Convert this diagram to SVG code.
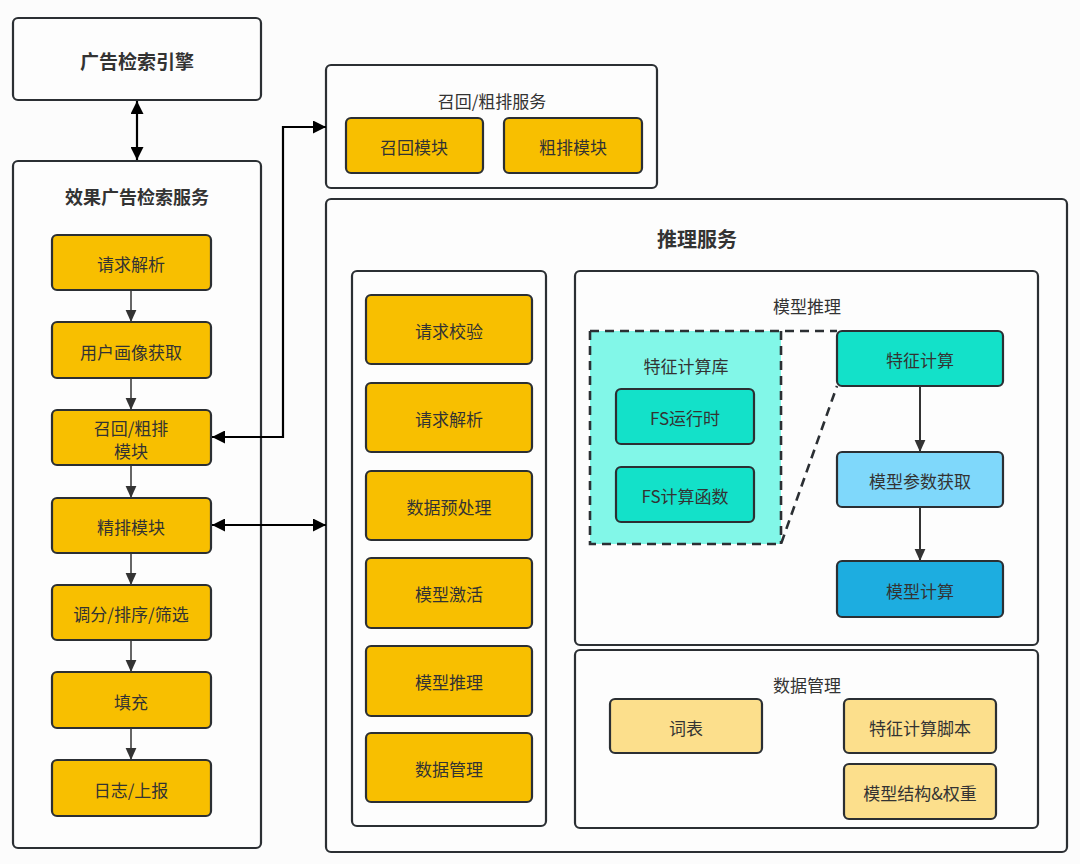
<svg xmlns="http://www.w3.org/2000/svg" width="1080" height="864" viewBox="0 0 1080 864">
<defs>
<style>
text{font-family:"Noto Sans CJK SC","Noto Sans",sans-serif;fill:#333;text-anchor:middle;dominant-baseline:central}
.t{font-size:17px}
.h{font-size:18px;font-weight:bold}
.c{fill:#FDFDFD;stroke:#2B2F33;stroke-width:2.2}
.o{fill:#F8BF00;stroke:#2B2F33;stroke-width:2.2}
.y{fill:#FCDF8C;stroke:#2B2F33;stroke-width:2.2}
.tq{fill:#13E1C9;stroke:#2B2F33;stroke-width:2.2}
.lb{fill:#7FD8FB;stroke:#2B2F33;stroke-width:2.2}
.db{fill:#1DADE0;stroke:#2B2F33;stroke-width:2.2}
.big{fill:none;stroke:#000;stroke-width:2.2}
.sm{fill:none;stroke:#333;stroke-width:1.5}
.dash{fill:none;stroke:#2B2F33;stroke-width:2.6;stroke-dasharray:9 6}
</style>
<marker id="ab" viewBox="0 0 10 10" refX="10" refY="5" markerWidth="15" markerHeight="13" markerUnits="userSpaceOnUse" orient="auto-start-reverse"><path d="M0,0L10,5L0,10Z" fill="#000"/></marker>
<marker id="as" viewBox="0 0 10 10" refX="10" refY="5" markerWidth="13" markerHeight="12" markerUnits="userSpaceOnUse" orient="auto"><path d="M0,0.5L10,5L0,9.5Z" fill="#333"/></marker>
</defs>
<rect width="1080" height="864" fill="#FCFCFC"/>

<g id="engine"><rect class="c" x="13" y="18" width="248" height="82" rx="5"/><text class="h" x="137" y="60" style="font-size:19px">广告检索引擎</text></g>

<g id="ad-service"><rect class="c" x="13" y="161" width="248" height="687" rx="5"/><text class="h" x="137" y="196" style="font-weight:600">效果广告检索服务</text></g>
<g id="n-req"><rect class="o" x="52" y="235" width="159" height="55" rx="5"/><text class="t" x="131" y="263">请求解析</text></g>
<g id="n-user"><rect class="o" x="52" y="322" width="159" height="56" rx="5"/><text class="t" x="131" y="351">用户画像获取</text></g>
<g id="n-recall"><rect class="o" x="52" y="410" width="159" height="55" rx="5"/><text class="t" x="131" y="427">召回/粗排</text><text class="t" x="131" y="450">模块</text></g>
<g id="n-rank"><rect class="o" x="52" y="498" width="159" height="55" rx="5"/><text class="t" x="131" y="526">精排模块</text></g>
<g id="n-adjust"><rect class="o" x="52" y="585" width="159" height="55" rx="5"/><text class="t" x="131" y="613">调分/排序/筛选</text></g>
<g id="n-fill"><rect class="o" x="52" y="672" width="159" height="56" rx="5"/><text class="t" x="131" y="701">填充</text></g>
<g id="n-log"><rect class="o" x="52" y="760" width="159" height="56" rx="5"/><text class="t" x="131" y="789">日志/上报</text></g>

<g id="recall-service"><rect class="c" x="326" y="65" width="331" height="123" rx="5"/><text class="t" x="492" y="100">召回/粗排服务</text></g>
<g id="n-recall-mod"><rect class="o" x="346" y="118" width="137" height="55" rx="5"/><text class="t" x="414" y="146">召回模块</text></g>
<g id="n-coarse-mod"><rect class="o" x="504" y="118" width="138" height="55" rx="5"/><text class="t" x="573" y="146">粗排模块</text></g>

<g id="infer-service"><rect class="c" x="326" y="199" width="741" height="653" rx="5"/><text class="h" x="697" y="238" style="font-size:20px">推理服务</text></g>
<g id="infer-steps"><rect class="c" x="352" y="271" width="194" height="555" rx="5"/></g>
<g id="s-check"><rect class="o" x="366" y="295" width="166" height="69" rx="5"/><text class="t" x="449" y="330">请求校验</text></g>
<g id="s-parse"><rect class="o" x="366" y="383" width="166" height="69" rx="5"/><text class="t" x="449" y="418">请求解析</text></g>
<g id="s-pre"><rect class="o" x="366" y="471" width="166" height="69" rx="5"/><text class="t" x="449" y="506">数据预处理</text></g>
<g id="s-act"><rect class="o" x="366" y="558" width="166" height="70" rx="5"/><text class="t" x="449" y="593">模型激活</text></g>
<g id="s-inf"><rect class="o" x="366" y="646" width="166" height="70" rx="5"/><text class="t" x="449" y="681">模型推理</text></g>
<g id="s-data"><rect class="o" x="366" y="733" width="166" height="69" rx="5"/><text class="t" x="449" y="768">数据管理</text></g>

<g id="model-infer"><rect class="c" x="575" y="271" width="463" height="374" rx="5"/><text class="t" x="807" y="305">模型推理</text></g>
<g id="fs-lib"><rect x="590" y="331" width="191" height="213" fill="#82F7E8" stroke="none"/><text class="t" x="686" y="365">特征计算库</text></g>
<g id="fs-run"><rect class="tq" x="616" y="389" width="138" height="55" rx="5"/><text class="t" x="685" y="417">FS运行时</text></g>
<g id="fs-func"><rect class="tq" x="616" y="467" width="138" height="55" rx="5"/><text class="t" x="685" y="495">FS计算函数</text></g>
<g id="feat-calc"><rect class="tq" x="837" y="331" width="166" height="55" rx="5"/><text class="t" x="920" y="359">特征计算</text></g>
<g id="param"><rect class="lb" x="837" y="452" width="166" height="55" rx="5"/><text class="t" x="920" y="480">模型参数获取</text></g>
<g id="model-calc"><rect class="db" x="837" y="561" width="166" height="56" rx="5"/><text class="t" x="920" y="590">模型计算</text></g>

<g id="data-mgmt"><rect class="c" x="575" y="650" width="463" height="178" rx="5"/><text class="t" x="807" y="684">数据管理</text></g>
<g id="d-vocab"><rect class="y" x="610" y="699" width="152" height="54" rx="5"/><text class="t" x="686" y="727">词表</text></g>
<g id="d-script"><rect class="y" x="844" y="699" width="152" height="54" rx="5"/><text class="t" x="920" y="727">特征计算脚本</text></g>
<g id="d-weight"><rect class="y" x="844" y="764" width="152" height="55" rx="5"/><text class="t" x="920" y="792">模型结构&amp;权重</text></g>

<g id="connectors">
<path class="big" d="M137,101V160" marker-start="url(#ab)" marker-end="url(#ab)"/>
<path class="big" d="M212,437H283V127H326" marker-start="url(#ab)" marker-end="url(#ab)"/>
<path class="big" d="M212,525H326" marker-start="url(#ab)" marker-end="url(#ab)"/>
<path class="sm" d="M131,290V322" marker-end="url(#as)"/>
<path class="sm" d="M131,378V410" marker-end="url(#as)"/>
<path class="sm" d="M131,465V498" marker-end="url(#as)"/>
<path class="sm" d="M131,553V585" marker-end="url(#as)"/>
<path class="sm" d="M131,640V672" marker-end="url(#as)"/>
<path class="sm" d="M131,728V760" marker-end="url(#as)"/>
<path class="sm" d="M920,386V452" marker-end="url(#as)" style="stroke-width:2"/>
<path class="sm" d="M920,507V561" marker-end="url(#as)" style="stroke-width:2"/>
<path class="dash" d="M590,331H837M590,331V544H781L837,386M781,331V544"/>
</g>
</svg>
